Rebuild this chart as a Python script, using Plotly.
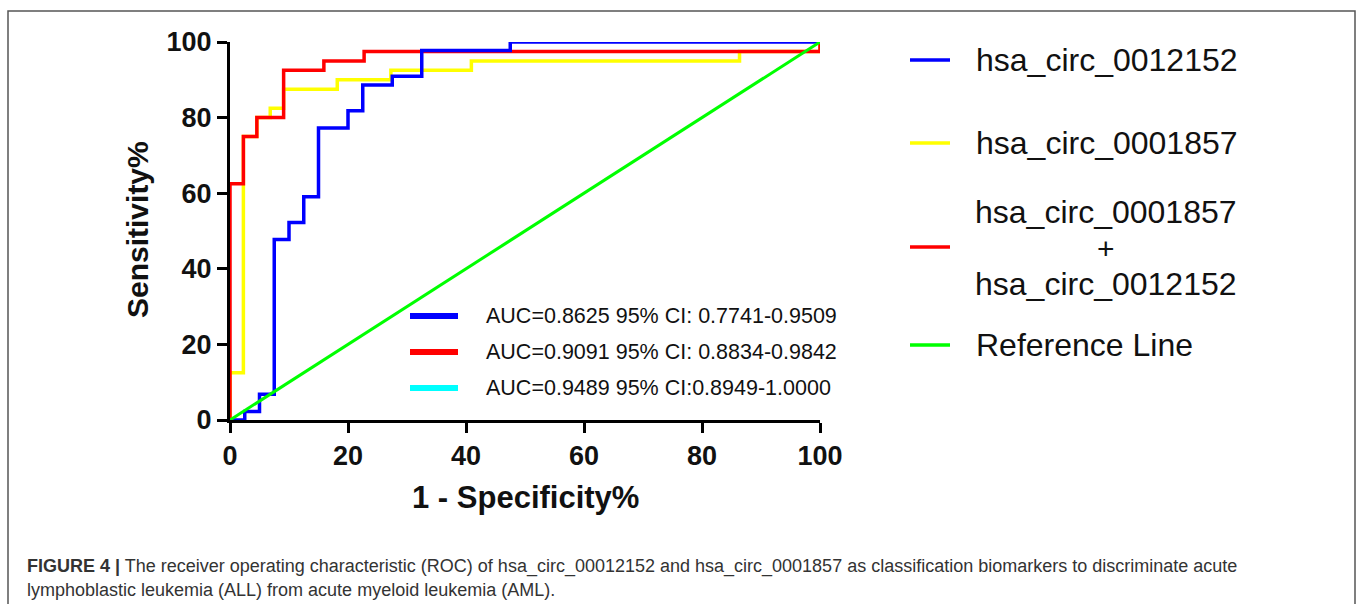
import plotly.graph_objects as go

# ---- data ----
blue_x = [0, 2.5, 5, 7.5, 10, 12.5, 15, 20, 22.5, 27.5, 32.5, 47.5, 100]
blue_y = [0, 2.27, 6.82, 47.73, 52.27, 59.09, 77.27, 81.82, 88.64, 90.91, 97.73, 100, 100]

yellow_x = [0, 0, 2.27, 4.55, 6.82, 9.09, 18.18, 27.27, 40.91, 86.36, 100]
yellow_y = [0, 12.5, 75, 80, 82.5, 87.5, 90, 92.5, 95, 97.5, 100]

red_x = [0, 0, 2.27, 4.55, 9.09, 15.91, 22.73, 100]
red_y = [0, 62.5, 75, 80, 92.5, 95, 97.5, 100]

ref_x = [0, 100]
ref_y = [0, 100]

legend_names = ["hsa_circ_0012152", "hsa_circ_0001857",
                "hsa_circ_0001857<br>+<br>hsa_circ_0012152", "Reference Line"]
auc_labels = ["AUC=0.8625 95% CI: 0.7741-0.9509",
              "AUC=0.9091 95% CI: 0.8834-0.9842",
              "AUC=0.9489 95% CI:0.8949-1.0000"]
tick_vals = [0, 20, 40, 60, 80, 100]

BLUE, YELLOW, RED, GREEN, CYAN = "#0000ff", "#ffff00", "#ff0000", "#00ff00", "#00ffff"
FONT = "Liberation Sans, Arial, sans-serif"

W, H = 1357, 604
L, R, T, B = 230, 820, 42, 420   # plot area in pixels


def px(x):
    return (x - L) / (R - L)


def py(y):
    return (B - y) / (B - T)


fig = go.Figure()
fig.add_trace(go.Scatter(x=yellow_x, y=yellow_y, mode="lines", line=dict(color=YELLOW, width=3.5, shape="hv"),
                         name="hsa_circ_0001857", cliponaxis=False, showlegend=False))
fig.add_trace(go.Scatter(x=red_x, y=red_y, mode="lines", line=dict(color=RED, width=3.5, shape="hv"),
                         name="combined", cliponaxis=False, showlegend=False))
fig.add_trace(go.Scatter(x=blue_x, y=blue_y, mode="lines", line=dict(color=BLUE, width=3.5, shape="hv"),
                         name="hsa_circ_0012152", cliponaxis=False, showlegend=False))
fig.add_trace(go.Scatter(x=ref_x, y=ref_y, mode="lines", line=dict(color=GREEN, width=3),
                         name="Reference Line", cliponaxis=False, showlegend=False))

shapes = []
annotations = []

# inner AUC legend
for i, (lab, col) in enumerate(zip(auc_labels, [BLUE, RED, CYAN])):
    yy = 316 + 36 * i
    shapes.append(dict(type="line", xref="paper", yref="paper", x0=px(410), x1=px(458), y0=py(yy), y1=py(yy),
                       line=dict(color=col, width=6)))
    annotations.append(dict(text=lab, xref="paper", yref="paper", x=px(484), y=py(yy), xanchor="left",
                            yanchor="middle", showarrow=False, font=dict(family=FONT, size=21.5, color="#111")))

# right legend
leg_line_y = [60, 143, 247, 345]
for name, col, ly in zip(legend_names, [BLUE, YELLOW, RED, GREEN], leg_line_y):
    shapes.append(dict(type="line", xref="paper", yref="paper", x0=px(910), x1=px(950), y0=py(ly), y1=py(ly),
                       line=dict(color=col, width=3.5)))
    parts = name.split("<br>")
    if len(parts) == 1:
        annotations.append(dict(text=name, xref="paper", yref="paper", x=px(974), y=py(ly), xanchor="left",
                                yanchor="middle", showarrow=False,
                                font=dict(family=FONT, size=32, color="#111")))
    else:
        offs = [-35, 1, 37]
        sizes = [32, 30, 32]
        for part, o, s in zip(parts, offs, sizes):
            annotations.append(dict(text=part, xref="paper", yref="paper", x=px(1106), y=py(ly + o),
                                    xanchor="center", yanchor="middle", showarrow=False, borderpad=0,
                                    font=dict(family=FONT, size=s, color="#111")))

# axis titles
annotations.append(dict(text="<b>1 - Specificity%</b>", xref="paper", yref="paper", x=px(525), y=py(497),
                        xanchor="center", yanchor="middle", showarrow=False,
                        font=dict(family=FONT, size=31, color="#111")))
annotations.append(dict(text="<b>Sensitivity%</b>", xref="paper", yref="paper", x=px(137), y=py(230),
                        xanchor="center", yanchor="middle", showarrow=False, textangle=-90,
                        font=dict(family=FONT, size=30, color="#111")))

# caption
annotations.append(dict(text="<b>FIGURE 4 |</b> The receiver operating characteristic (ROC) of hsa_circ_00012152 and "
                             "hsa_circ_0001857 as classification biomarkers to discriminate acute",
                        xref="paper", yref="paper", x=px(25), y=py(566), xanchor="left", yanchor="middle",
                        showarrow=False, font=dict(family=FONT, size=18, color="#333")))
annotations.append(dict(text="lymphoblastic leukemia (ALL) from acute myeloid leukemia (AML).",
                        xref="paper", yref="paper", x=px(25), y=py(590), xanchor="left", yanchor="middle",
                        showarrow=False, font=dict(family=FONT, size=18, color="#333")))

# border
shapes.append(dict(type="rect", xref="paper", yref="paper", x0=px(8), x1=px(1355), y0=py(11), y1=py(640),
                   line=dict(color="#555", width=1.5), fillcolor="rgba(0,0,0,0)", layer="below"))

axis_common = dict(range=[0, 100], tickvals=tick_vals, showgrid=False, zeroline=False, showline=True,
                   linecolor="black", linewidth=3, ticks="outside", ticklen=10, tickwidth=3, tickcolor="black",
                   tickfont=dict(family=FONT, size=27, color="#111", weight="bold"), fixedrange=True)

fig.update_layout(
    width=W, height=H, autosize=False,
    margin=dict(l=L, r=W - R, t=T, b=H - B),
    paper_bgcolor="white", plot_bgcolor="white",
    xaxis=dict(**axis_common),
    yaxis=dict(**axis_common),
    shapes=shapes, annotations=annotations,
    showlegend=False,
)

fig.write_html("out.html")
